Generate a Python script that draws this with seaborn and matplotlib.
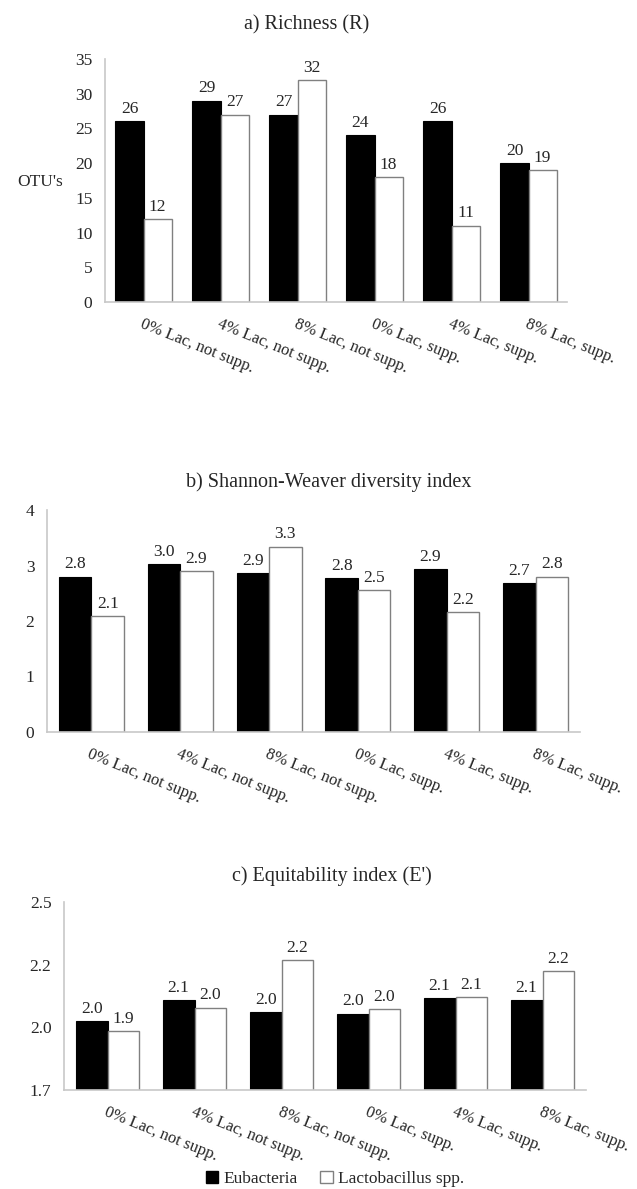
#!/usr/bin/env python3
"""
Three-panel grouped bar chart: richness, Shannon-Weaver and equitability
for Eubacteria vs Lactobacillus spp. across six diet treatments.
"""
import pandas as pd
import matplotlib
matplotlib.use("Agg")
import matplotlib.pyplot as plt
from matplotlib.patches import Patch
import seaborn as sns

# DATA
groups = ["0% Lac, not supp.", "4% Lac, not supp.", "8% Lac, not supp.",
          "0% Lac, supp.", "4% Lac, supp.", "8% Lac, supp."]
series = ["Eubacteria", "Lactobacillus spp."]

richness_eub = [26, 29, 27, 24, 26, 20]
richness_lac = [12, 27, 32, 18, 11, 19]

shannon_eub = [2.80, 3.02, 2.87, 2.78, 2.93, 2.69]
shannon_lac = [2.09, 2.90, 3.34, 2.55, 2.16, 2.80]
shannon_eub_labels = ["2.8", "3.0", "2.9", "2.8", "2.9", "2.7"]
shannon_lac_labels = ["2.1", "2.9", "3.3", "2.5", "2.2", "2.8"]

equit_eub = [2.026, 2.108, 2.061, 2.055, 2.116, 2.108]
equit_lac = [1.984, 2.079, 2.267, 2.073, 2.122, 2.226]
equit_eub_labels = ["2.0", "2.1", "2.0", "2.0", "2.1", "2.1"]
equit_lac_labels = ["1.9", "2.0", "2.2", "2.0", "2.1", "2.2"]

c_ticks = [1.75, 2.0, 2.25, 2.5]
c_tick_labels = ["1.7", "2.0", "2.2", "2.5"]

W, H = 637, 1189
SPINE = "#c8c8c8"
EDGE = "#808080"
FS = 12.5
CAT_FS = 12
TITLE_FS = 14.5


def make_df(eub, lac):
    return pd.DataFrame({
        "group": groups * 2,
        "series": [series[0]] * len(groups) + [series[1]] * len(groups),
        "value": list(eub) + list(lac),
    })


def draw_panel(fig, box, eub, lac, eub_labels, lac_labels, ylim, yticks, ytick_labels):
    left, right, top, bottom = box
    ax = fig.add_axes([left / W, 1 - bottom / H, (right - left) / W, (bottom - top) / H])
    sns.barplot(data=make_df(eub, lac), x="group", y="value", hue="series",
                palette=["black", "white"], width=0.73, gap=0, legend=False,
                ax=ax, saturation=1)
    for patch in ax.containers[0]:
        patch.set_edgecolor("black")
        patch.set_linewidth(0.8)
    for patch in ax.containers[1]:
        patch.set_edgecolor(EDGE)
        patch.set_linewidth(1.0)
    ax.bar_label(ax.containers[0], labels=eub_labels, padding=3, fontsize=FS)
    ax.bar_label(ax.containers[1], labels=lac_labels, padding=3, fontsize=FS)

    ax.set_ylim(*ylim)
    ax.set_xlim(-0.5, len(groups) - 0.5)
    ax.set_yticks(yticks)
    ax.set_yticklabels(ytick_labels, fontsize=FS)
    ax.set_xticks(range(len(groups)))
    ax.set_xticklabels(groups, fontsize=CAT_FS, rotation=-22, ha="left", va="top",
                       rotation_mode="anchor")
    ax.tick_params(axis="y", length=0, pad=9)
    ax.tick_params(axis="x", length=0, pad=10)
    ax.set_xlabel("")
    ax.set_ylabel("")
    for side in ["top", "right"]:
        ax.spines[side].set_visible(False)
    for side in ["left", "bottom"]:
        ax.spines[side].set_color(SPINE)
        ax.spines[side].set_linewidth(1.2)
    return ax


def main():
    sns.set_style("white")
    plt.rcParams["font.family"] = ["Liberation Serif", "DejaVu Serif"]

    fig = plt.figure(figsize=(W / 100, H / 100), dpi=100)

    # a) Richness
    ax_a = draw_panel(fig, (105, 567, 59, 302), richness_eub, richness_lac,
                      [str(v) for v in richness_eub], [str(v) for v in richness_lac],
                      (0, 35), range(0, 36, 5), [str(v) for v in range(0, 36, 5)])
    ax_a.set_ylabel("OTU's", rotation=0, fontsize=FS, ha="center", va="center")
    ax_a.yaxis.set_label_coords(-0.14, 0.494)
    fig.text(307 / W, 1 - 25 / H, "a) Richness (R)", ha="center", va="center", fontsize=TITLE_FS)

    # b) Shannon-Weaver
    draw_panel(fig, (47, 580, 510, 732), shannon_eub, shannon_lac,
               shannon_eub_labels, shannon_lac_labels,
               (0, 4), range(0, 5), [str(v) for v in range(0, 5)])
    fig.text(329 / W, 1 - 482 / H, "b) Shannon-Weaver diversity index",
             ha="center", va="center", fontsize=TITLE_FS)

    # c) Equitability
    draw_panel(fig, (64, 586, 902, 1090), equit_eub, equit_lac,
               equit_eub_labels, equit_lac_labels,
               (1.75, 2.5), c_ticks, c_tick_labels)
    fig.text(332 / W, 1 - 876 / H, "c) Equitability index (E')",
             ha="center", va="center", fontsize=TITLE_FS)

    handles = [Patch(facecolor="black", edgecolor="black", label=series[0]),
               Patch(facecolor="white", edgecolor=EDGE, label=series[1])]
    fig.legend(handles=handles, loc="center", bbox_to_anchor=(335 / W, 1 - 1179 / H),
               ncol=2, frameon=False, fontsize=FS, handlelength=0.7, handleheight=0.7,
               handletextpad=0.3, columnspacing=1.3)

    fig.savefig("out.png", dpi=100)


if __name__ == "__main__":
    main()
